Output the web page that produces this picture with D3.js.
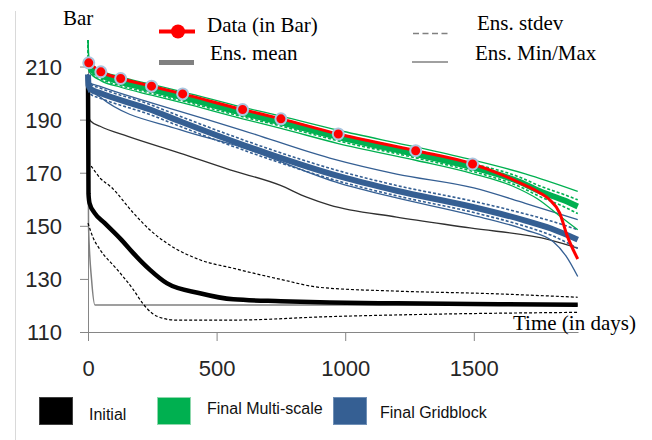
<!DOCTYPE html>
<html>
<head>
<meta charset="utf-8">
<script src="https://cdn.jsdelivr.net/npm/d3@7"></script>
<style>
  body { margin: 0; background: #fff; }
  svg { display: block; }
</style>
</head>
<body>
<svg id="chart" width="652" height="440"></svg>
<script>
// axis ticks
const xTicks = [0, 500, 1000, 1500];
const yTicks = [110, 130, 150, 170, 190, 210];

// measured data (red markers) and the red history line
const dataDays = [3, 50, 127, 247, 368, 601, 750, 973, 1274, 1495];
const dataBar = [211.4, 208, 205.5, 202.6, 199.7, 193.8, 190.3, 184.6, 178.3, 173.3];
const dataLine = [[3, 211.4], [50, 208], [127, 205.5], [247, 202.6], [368, 199.7], [601, 193.8], [750, 190.3], [973, 184.6], [1274, 178.3], [1495, 173.3], [1600, 169.6], [1679, 166.2], [1757, 162.4], [1795, 159.8], [1834, 154.8], [1862, 146.5], [1904, 137.5]];

// initial ensemble (black)
const initialMean = [[0, 206], [2, 162], [6, 158.5], [26, 154.8], [65, 151], [130, 144.7], [176, 139.7], [241, 133.4], [306, 128.4], [435, 124.6], [565, 122.3], [750, 121.6], [940, 121.1], [1200, 120.8], [1600, 120.5], [1904, 120.3]];
const initialStdUp = [[0, 174], [13, 172.4], [47, 168], [91, 164.5], [175, 155], [240, 148.5], [306, 143.5], [435, 137.2], [565, 134], [750, 129.8], [902, 126.8], [1200, 125.4], [1549, 124.5], [1904, 123.1]];
const initialStdLow = [[0, 151], [20, 145.5], [47, 141], [111, 133.8], [176, 126], [215, 120.5], [250, 117], [290, 115.2], [340, 114.5], [565, 114.5], [940, 115.8], [1400, 116.8], [1904, 117.4]];
const initialMax = [[0, 206], [3, 191], [10, 189.5], [47, 187.5], [155, 183.7], [357, 177.4], [552, 171.1], [746, 165.3], [850, 160.8], [940, 157.8], [1200, 153.3], [1485, 149.2], [1795, 144.7], [1904, 141.6]];
const initialMin = [[0, 206], [2, 150], [14, 129.6], [27, 120.2], [1904, 120.2]];

// final multi-scale ensemble (green)
const multiMean = [[0, 212], [5, 210], [50, 206.8], [127, 204.2], [247, 201.3], [368, 198.4], [601, 192.5], [750, 189], [973, 183.4], [1274, 177], [1495, 172], [1679, 166.5], [1757, 163], [1850, 159.6], [1904, 157.3]];
const multiStdUp = [[0, 220], [0.5, 212.2], [5, 211.3], [50, 208.1], [127, 205.5], [247, 202.6], [368, 199.7], [601, 193.8], [750, 190.3], [973, 184.7], [1274, 178.4], [1495, 173.5], [1679, 168.3], [1757, 165], [1850, 161.8], [1904, 159.8]];
const multiStdLow = [[0, 220], [0.5, 209.6], [5, 208.6], [50, 205.4], [127, 202.8], [247, 199.9], [368, 197], [601, 191.1], [750, 187.6], [973, 182], [1274, 175.6], [1495, 170.5], [1679, 164.7], [1757, 161], [1850, 157.2], [1904, 154.6]];
const multiMax = [[0, 220], [5, 211.8], [50, 208.6], [127, 206.1], [247, 203.3], [368, 200.5], [601, 194.7], [750, 191.3], [973, 186], [1274, 179.7], [1495, 174.8], [1700, 169.6], [1904, 163]];
const multiMin = [[0, 220], [5, 208], [50, 204.7], [127, 202.2], [247, 199.2], [368, 196.3], [601, 190.3], [750, 186.7], [973, 181], [1274, 174.7], [1495, 169.7], [1650, 165], [1750, 160], [1830, 154], [1904, 148.5]];

// final gridblock ensemble (blue)
const gridMean = [[0, 207], [2, 203], [10, 201.5], [47, 200], [241, 193.8], [357, 189.4], [435, 186.5], [694, 177.4], [979, 168.6], [1200, 163.2], [1500, 157], [1700, 152], [1800, 149], [1904, 144.8]];
const gridStdUp = [[0, 207], [2, 205], [10, 203.4], [47, 201.9], [241, 195.7], [357, 191.3], [435, 188.4], [694, 179.3], [979, 170.6], [1200, 165.2], [1500, 159.2], [1700, 154.5], [1800, 151.8], [1904, 148.5]];
const gridStdLow = [[0, 207], [2, 201], [10, 199.6], [47, 198.1], [241, 191.9], [357, 187.5], [435, 184.6], [694, 175.5], [979, 166.7], [1200, 161.3], [1500, 155], [1700, 149.8], [1800, 146.5], [1904, 141.5]];
const gridMax = [[0, 207], [5, 204], [47, 202.5], [357, 193.1], [600, 186], [940, 175.5], [1200, 169.5], [1500, 164.3], [1700, 158.5], [1904, 152.3]];
const gridMin = [[0, 207], [5, 202], [47, 198.5], [357, 186.2], [600, 179.5], [979, 166], [1200, 160.5], [1485, 154.2], [1700, 148.5], [1808, 144.1], [1860, 138.4], [1904, 130.9]];

// colours
const black = "#000000";
const green = "#00B050";
const blue = "#355F93";
const red = "#FF0000";
const axisColor = "#868686";

const serif = "'Liberation Serif', 'Times New Roman', serif";
const sans = "'Liberation Sans', Arial, sans-serif";

const svg = d3.select("#chart");

// scales
const x = d3.scaleLinear().domain([0, 1905]).range([88, 578]);
const y = d3.scaleLinear().domain([110, 220]).range([332, 40]);

// left frame line
svg.append("line")
  .attr("x1", 15.5).attr("x2", 15.5)
  .attr("y1", 11).attr("y2", 440)
  .attr("stroke", "#d9d9d9");

// axes
const yAxis = svg.append("g")
  .attr("transform", "translate(88,0)")
  .call(d3.axisLeft(y).tickValues(yTicks).tickSize(8).tickPadding(18).tickSizeOuter(0));
const xAxis = svg.append("g")
  .attr("transform", "translate(0,332)")
  .call(d3.axisBottom(x).tickValues(xTicks).tickFormat(d3.format("d")).tickSize(9).tickPadding(17).tickSizeOuter(0));

[xAxis, yAxis].forEach(a => {
  a.select(".domain").attr("stroke", axisColor);
  a.selectAll(".tick line").attr("stroke", axisColor);
  a.selectAll(".tick text")
    .attr("fill", "#262626")
    .style("font-family", sans)
    .style("font-size", "22px");
});
yAxis.selectAll(".tick text").attr("dy", "0.36em");
xAxis.selectAll(".tick text").attr("dy", "0.8em");

const line = d3.line()
  .curve(d3.curveMonotoneX)
  .x(d => x(d[0]))
  .y(d => y(d[1]));

function drawLine(data, color, width, dash) {
  svg.append("path")
    .datum(data)
    .attr("fill", "none")
    .attr("stroke", color)
    .attr("stroke-width", width)
    .attr("stroke-dasharray", dash || null)
    .attr("stroke-linejoin", "round")
    .attr("d", line);
}

// initial ensemble
drawLine(initialMin, "#808080", 1.5);
drawLine(initialMax, "#303030", 1.3);
drawLine(initialStdUp, black, 1.2, "3,2");
drawLine(initialStdLow, black, 1.2, "3,2");
drawLine(initialMean, black, 4.5);

// gridblock ensemble
drawLine(gridMax, blue, 1.3);
drawLine(gridMin, blue, 1.3);
drawLine(gridMean, blue, 6);
drawLine(gridStdUp, blue, 1.6, "3,2");
drawLine(gridStdLow, blue, 1.6, "3,2");

// multi-scale ensemble
drawLine(multiMax, green, 1.3);
drawLine(multiMin, green, 1.3);
drawLine(multiMean, green, 6);
drawLine(multiStdUp, green, 1.6, "3,2");
drawLine(multiStdLow, green, 1.6, "3,2");

// data
drawLine(dataLine, red, 3);
svg.append("g").selectAll("circle")
  .data(dataDays)
  .join("circle")
  .attr("cx", d => x(d))
  .attr("cy", (d, i) => y(dataBar[i]))
  .attr("r", 5.5)
  .attr("fill", red)
  .attr("stroke", "#A9C6DF")
  .attr("stroke-width", 2);

// axis titles
svg.append("text")
  .attr("x", 63).attr("y", 25)
  .style("font-family", serif).style("font-size", "21px")
  .text("Bar");
svg.append("text")
  .attr("x", 513).attr("y", 330)
  .style("font-family", serif).style("font-size", "21px")
  .text("Time (in days)");

// top legend
svg.append("line")
  .attr("x1", 159).attr("x2", 195).attr("y1", 31.5).attr("y2", 31.5)
  .attr("stroke", red).attr("stroke-width", 4);
svg.append("circle")
  .attr("cx", 178).attr("cy", 31.5).attr("r", 7)
  .attr("fill", red);
svg.append("line")
  .attr("x1", 159).attr("x2", 194).attr("y1", 62.5).attr("y2", 62.5)
  .attr("stroke", "#808080").attr("stroke-width", 5);
svg.append("line")
  .attr("x1", 413).attr("x2", 450).attr("y1", 33.5).attr("y2", 33.5)
  .attr("stroke", "#808080").attr("stroke-width", 1.3).attr("stroke-dasharray", "6,3.5");
svg.append("line")
  .attr("x1", 412).attr("x2", 448).attr("y1", 62).attr("y2", 62)
  .attr("stroke", "#808080").attr("stroke-width", 1.5);

const topLegend = [
  { label: "Data (in Bar)", x: 207, y: 32 },
  { label: "Ens. mean", x: 210, y: 60 },
  { label: "Ens. stdev", x: 477, y: 30 },
  { label: "Ens. Min/Max", x: 475, y: 60 }
];
svg.append("g").selectAll("text")
  .data(topLegend)
  .join("text")
  .attr("x", d => d.x)
  .attr("y", d => d.y)
  .style("font-family", serif)
  .style("font-size", "21px")
  .text(d => d.label);

// bottom legend
const bottomLegend = [
  { label: "Initial", color: black, border: "#404040", sx: 39, tx: 89, ty: 420 },
  { label: "Final Multi-scale", color: green, border: "#8fd8ad", sx: 157, tx: 207, ty: 414 },
  { label: "Final Gridblock", color: blue, border: "#6f8fb6", sx: 333, tx: 380, ty: 418 }
];
const items = svg.append("g").selectAll("g")
  .data(bottomLegend)
  .join("g");
items.append("rect")
  .attr("x", d => d.sx + 0.5)
  .attr("y", 397.5)
  .attr("width", 33)
  .attr("height", 27)
  .attr("fill", d => d.color)
  .attr("stroke", d => d.border);
items.append("text")
  .attr("x", d => d.tx)
  .attr("y", d => d.ty)
  .style("font-family", sans)
  .style("font-size", "16px")
  .attr("fill", "#111")
  .text(d => d.label);
</script>
</body>
</html>
